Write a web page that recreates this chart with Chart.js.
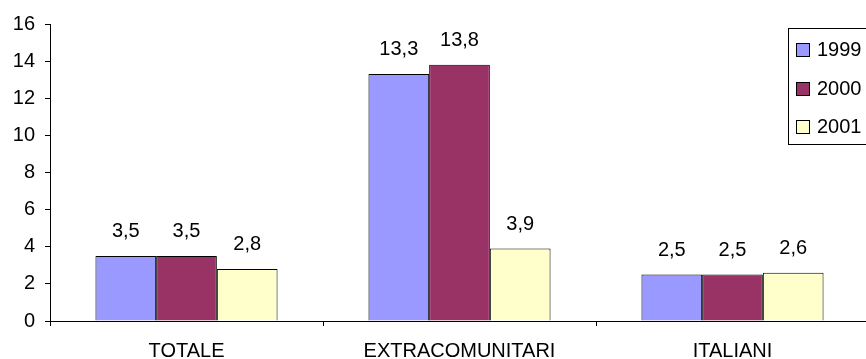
<!DOCTYPE html>
<html>
<head>
<meta charset="utf-8">
<script src="https://cdn.jsdelivr.net/npm/chart.js@4/dist/chart.umd.min.js"></script>
<style>
  html, body { margin: 0; padding: 0; background: #fff; overflow: hidden; }
  #wrap { width: 866px; height: 359px; overflow: hidden; }
  #wrap canvas { display: block; }
</style>
</head>
<body>
<div id="wrap"><canvas id="c" width="870" height="359" style="width:870px;height:359px"></canvas></div>
<script>
// Categorie e valori per anno
const categories = ['TOTALE', 'EXTRACOMUNITARI', 'ITALIANI'];
const years = ['1999', '2000', '2001'];
const values1999 = [3.5, 13.3, 2.5];
const values2000 = [3.5, 13.8, 2.5];
const values2001 = [2.8, 3.9, 2.6];
const yTicks = [0, 2, 4, 6, 8, 10, 12, 14, 16];

const FONT = 'Liberation Sans, Arial, sans-serif';
const fills = ['#9999FF', '#993366', '#FFFFCC'];

const fmt = v => String(v).replace('.', ',');

// Etichette numeriche sopra le barre
const valueLabels = {
  id: 'valueLabels',
  afterDatasetsDraw(chart) {
    const ctx = chart.ctx;
    ctx.save();
    ctx.font = '20px ' + FONT;
    ctx.fillStyle = '#000';
    ctx.textAlign = 'center';
    ctx.textBaseline = 'alphabetic';
    chart.data.datasets.forEach((ds, i) => {
      chart.getDatasetMeta(i).data.forEach((bar, j) => {
        ctx.fillText(fmt(ds.data[j]), bar.x, bar.y - 19);
      });
    });
    ctx.restore();
  }
};

// Legenda in riquadro a destra
const boxLegend = {
  id: 'boxLegend',
  afterDraw(chart) {
    const ctx = chart.ctx;
    const left = 788, top = 28, w = 100, h = 116;
    ctx.save();
    ctx.fillStyle = '#fff';
    ctx.fillRect(left, top, w, h);
    ctx.strokeStyle = '#000';
    ctx.lineWidth = 1;
    ctx.strokeRect(left + 0.5, top + 0.5, w, h);
    ctx.font = '20px ' + FONT;
    ctx.textAlign = 'left';
    ctx.textBaseline = 'middle';
    chart.data.datasets.forEach((ds, i) => {
      const cy = 49.5 + i * 38.5;
      ctx.fillStyle = ds.backgroundColor;
      ctx.fillRect(796, Math.round(cy - 6.5), 13, 13);
      ctx.strokeStyle = '#000';
      ctx.strokeRect(796.5, Math.round(cy - 6.5) + 0.5, 13, 13);
      ctx.fillStyle = '#000';
      ctx.fillText(ds.label, 817, cy + 1);
    });
    ctx.restore();
  }
};

new Chart(document.getElementById('c'), {
  type: 'bar',
  data: {
    labels: categories,
    datasets: [values1999, values2000, values2001].map((vals, i) => ({
      label: years[i],
      data: vals,
      backgroundColor: fills[i],
      borderColor: '#000',
      borderWidth: 1,
      categoryPercentage: 0.667,
      barPercentage: 1
    }))
  },
  options: {
    responsive: false,
    animation: false,
    devicePixelRatio: 1,
    layout: { padding: { top: 24, right: 1, left: 0, bottom: 0 } },
    plugins: { legend: { display: false }, tooltip: { enabled: false } },
    scales: {
      x: {
        grid: { display: true, drawOnChartArea: false, drawTicks: true, tickLength: 5, color: '#000', offset: true },
        border: { display: true, color: '#000', width: 1 },
        ticks: { color: '#000', font: { family: FONT, size: 20 }, padding: 13, maxRotation: 0 },
        afterFit(scale) { scale.height = 38; }
      },
      y: {
        min: 0, max: 16,
        afterBuildTicks(scale) { scale.ticks = yTicks.map(v => ({ value: v })); },
        grid: { display: true, drawOnChartArea: false, drawTicks: true, tickLength: 5, color: '#000' },
        border: { display: true, color: '#000', width: 1 },
        ticks: { color: '#000', font: { family: FONT, size: 20 }, padding: 10 },
        afterFit(scale) { scale.width = 50; }
      }
    }
  },
  plugins: [valueLabels, boxLegend]
});
</script>
</body>
</html>
